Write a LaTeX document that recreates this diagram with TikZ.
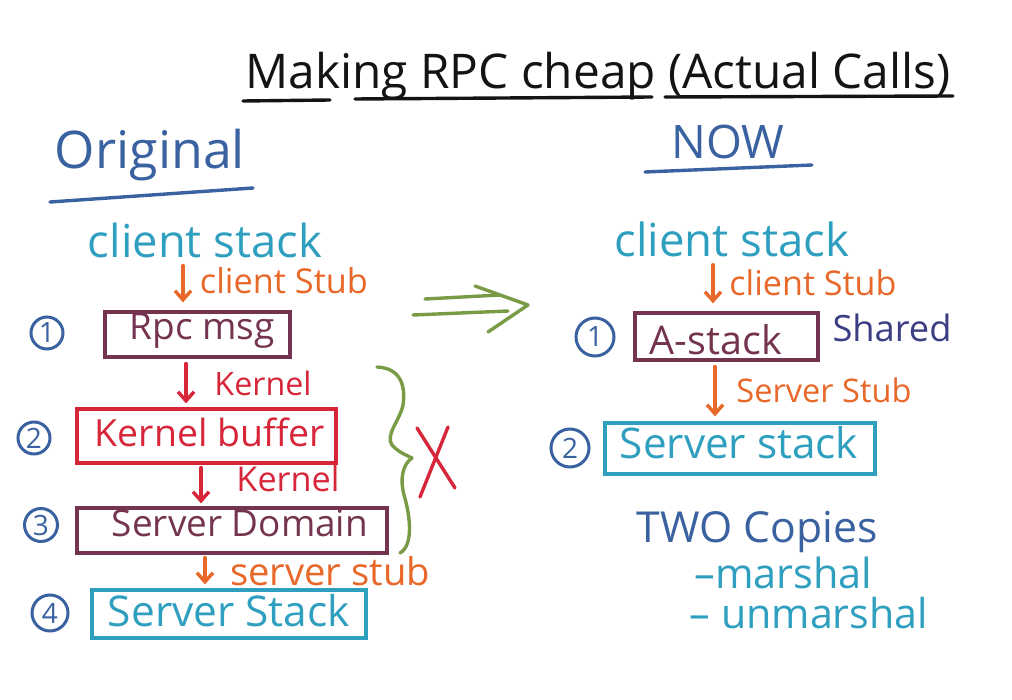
\documentclass[tikz,border=0pt]{standalone}
\usepackage{fontspec}
\setmainfont{Open Sans}
\usetikzlibrary{arrows.meta}
\definecolor{cInk}{HTML}{141414}
\definecolor{cNavy}{HTML}{3A62A0}
\definecolor{cTeal}{HTML}{2F9FC0}
\definecolor{cOrange}{HTML}{E8682A}
\definecolor{cMaroon}{HTML}{74344F}
\definecolor{cRed}{HTML}{D7263A}
\definecolor{cGreen}{HTML}{7A9B45}
\definecolor{cShared}{HTML}{3B3E82}
\newcommand\fitw[2]{\resizebox{#1pt}{!}{#2}}
\tikzset{
  txt/.style={inner sep=0pt, anchor=center},
  boxnode/.style={draw, line width=3.3pt, rectangle, inner sep=0pt},
  numc/.style={draw=cNavy, text=cNavy, circle, line width=3pt, inner sep=0pt, font=\fontsize{28}{28}\selectfont},
  pen/.style={line width=3.4pt, line cap=round, line join=round},
  arr/.style={pen, -{Straight Barb[length=9pt,width=16pt]}},
}
\begin{document}
\begin{tikzpicture}[x=1pt,y=-1pt]
\useasboundingbox[fill=white] (0,0) rectangle (1012,700);

% title
\node[txt, text=cInk] (title) at (598,76) {\fitw{705}{Making RPC cheap (Actual Calls)}};
\draw[pen, cInk] (243,101) -- (330,100);
\draw[pen, cInk] (355,99) -- (652,97);
\draw[pen, cInk] (665,97) -- (953,96);

% headings
\node[txt, text=cNavy] (orig) at (150,155) {\fitw{190}{Original}};
\draw[pen, cNavy] (50,202) -- (253,188);
\node[txt, text=cNavy] (now) at (728,142) {\fitw{113}{NOW}};
\draw[pen, cNavy] (645,172) -- (812,165);

% left column
\node[txt, text=cTeal] (csL) at (205,240) {\fitw{234}{client stack}};
\node[txt, text=cOrange] (cstubL) at (284,281) {\fitw{168}{client Stub}};
\node[boxnode, draw=cMaroon, minimum width=185pt, minimum height=45pt] (rpc) at (197.5,334.5) {};
\node[txt, text=cMaroon] (rpct) at (202,331) {\fitw{145}{Rpc msg}};
\node[txt, text=cRed] (k1) at (263,383) {\fitw{97}{Kernel}};
\node[boxnode, draw=cRed, minimum width=259pt, minimum height=54pt] (kb) at (206.5,436) {};
\node[txt, text=cRed] (kbt) at (210,432) {\fitw{230}{Kernel buffer}};
\node[txt, text=cRed] (k2) at (288,479) {\fitw{103}{Kernel}};
\node[boxnode, draw=cMaroon, minimum width=310pt, minimum height=45pt] (sd) at (232,530.5) {};
\node[txt, text=cMaroon] (sdt) at (240,523) {\fitw{256}{Server Domain}};
\node[txt, text=cOrange] (sstubL) at (330,571) {\fitw{200}{server stub}};
\node[boxnode, draw=cTeal, minimum width=274pt, minimum height=48pt] (ss) at (229,614) {};
\node[txt, text=cTeal] (sst) at (229,611) {\fitw{242}{Server Stack}};

\node[numc, minimum size=32pt] (n1) at (47,333) {1};
\node[numc, minimum size=32pt] (n2) at (34,438) {2};
\node[numc, minimum size=33pt] (n3) at (41,525) {3};
\node[numc, minimum size=36pt] (n4) at (50,613) {4};

\coordinate (xa) at (183,0);
\coordinate (xb) at (186,0);
\coordinate (xc) at (201,0);
\coordinate (xd) at (205,0);
\draw[arr, cOrange, shorten <=8pt, shorten >=8pt] (csL.south -| xa) -- (rpc.north -| xa);
\draw[arr, cRed, shorten <=5pt, shorten >=4pt] (rpc.south -| xb) -- (kb.north -| xb);
\draw[arr, cRed, shorten <=3pt, shorten >=3pt] (kb.south -| xc) -- (sd.north -| xc);
\draw[arr, cOrange, shorten <=3pt, shorten >=4pt] (sd.south -| xd) -- (ss.north -| xd);

% brace and X
\draw[pen, cGreen] (377,367) .. controls (400,368) and (406,385) .. (403,405)
  .. controls (400,420) and (385,435) .. (392,445)
  .. controls (398,452) and (406,455) .. (412,458)
  .. controls (402,465) and (400,480) .. (404,495)
  .. controls (410,515) and (414,545) .. (400,553);
\draw[pen, cRed] (417,428) -- (455,488);
\draw[pen, cRed] (448,427) -- (420,497);

% double arrow
\draw[pen, cGreen] (425,299) -- (500,295);
\draw[pen, cGreen] (413,315) -- (508,311);
\draw[pen, cGreen] (475,286) -- (528,305) -- (488,332);

% right column
\node[txt, text=cTeal] (csR) at (732,239) {\fitw{235}{client stack}};
\node[txt, text=cOrange] (cstubR) at (813,283) {\fitw{167}{client Stub}};
\node[boxnode, draw=cMaroon, minimum width=183pt, minimum height=47pt] (as) at (726.5,336.5) {};
\node[txt, text=cMaroon] (ast) at (716,340) {\fitw{132}{A-stack}};
\node[txt, text=cShared] (shared) at (892,328) {\fitw{119}{Shared}};
\node[txt, text=cOrange] (sstubR) at (824,390) {\fitw{175}{Server Stub}};
\node[boxnode, draw=cTeal, minimum width=270pt, minimum height=51pt] (ssR) at (740,448.5) {};
\node[txt, text=cTeal] (ssRt) at (739,443) {\fitw{238}{Server stack}};
\node[numc, minimum size=38pt] (r1) at (595,337) {1};
\node[numc, minimum size=38pt] (r2) at (570,448) {2};

\coordinate (xe) at (713,0);
\coordinate (xf) at (715,0);
\draw[arr, cOrange, shorten <=8pt, shorten >=8pt] (csR.south -| xe) -- (as.north -| xe);
\draw[arr, cOrange, shorten <=5pt, shorten >=5pt] (as.south -| xf) -- (ssR.north -| xf);

% notes
\node[txt, text=cNavy] (two) at (757,532) {\fitw{241}{TWO Copies}};
\node[txt, text=cTeal] (m1) at (780,573) {\fitw{185}{\,–marshal}};
\node[txt, text=cTeal] (m2) at (809,613) {\fitw{238}{– unmarshal}};
\end{tikzpicture}
\end{document}
